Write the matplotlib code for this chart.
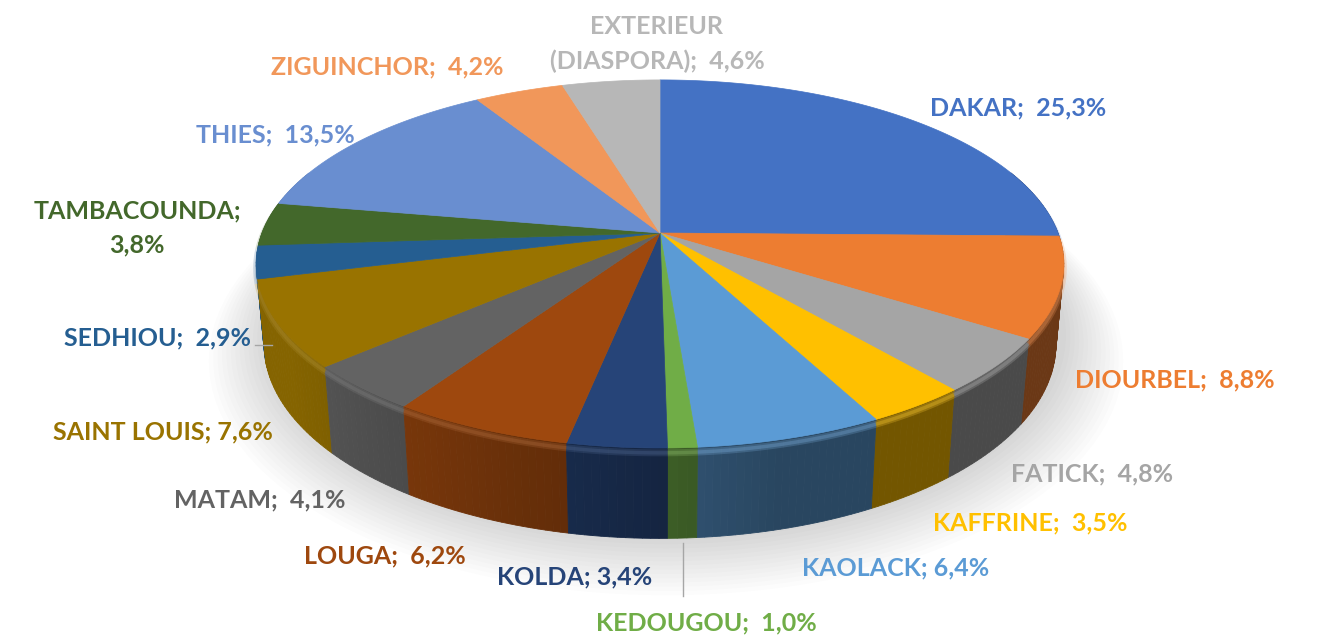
import numpy as np
import matplotlib.pyplot as plt
from matplotlib.patches import Polygon, Ellipse

plt.rcParams['font.family'] = ['Lato', 'DejaVu Sans']

# parts des régions (%), dans le sens horaire depuis midi
regions = ['DAKAR', 'DIOURBEL', 'FATICK', 'KAFFRINE', 'KAOLACK', 'KEDOUGOU',
           'KOLDA', 'LOUGA', 'MATAM', 'SAINT LOUIS', 'SEDHIOU', 'TAMBACOUNDA',
           'THIES', 'ZIGUINCHOR', 'EXTERIEUR\n(DIASPORA)']
shares = [25.3, 8.8, 4.8, 3.5, 6.4, 1.0, 3.4, 6.2, 4.1, 7.6, 2.9, 3.8, 13.5, 4.2, 4.6]
colors = ['#4472C4', '#ED7D31', '#A5A5A5', '#FFC000', '#5B9BD5', '#70AD47',
          '#264478', '#9E480E', '#636363', '#997300', '#255E91', '#43682B',
          '#698ED0', '#F1975A', '#B7B7B7']

# position des étiquettes (pixels)
label_pos = {
    'DAKAR': (1018, 108), 'DIOURBEL': (1175, 380), 'FATICK': (1092, 474),
    'KAFFRINE': (1030, 523), 'KAOLACK': (896, 568), 'KEDOUGOU': (706, 623),
    'KOLDA': (575, 577), 'LOUGA': (385, 556), 'MATAM': (260, 500),
    'SAINT LOUIS': (163, 432), 'SEDHIOU': (158, 338), 'TAMBACOUNDA': (137, 228),
    'THIES': (275, 135), 'ZIGUINCHOR': (387, 67), 'EXTERIEUR\n(DIASPORA)': (657, 44),
}
single_space = {'KAOLACK', 'KOLDA', 'SAINT LOUIS'}

W, H = 1330, 635
fig = plt.figure(figsize=(W / 100, H / 100), dpi=100)
ax = fig.add_axes([0, 0, 1, 1])
ax.set_xlim(0, W)
ax.set_ylim(H, 0)
ax.axis('off')

# projection perspective d'un disque
elev = np.radians(26.7)
dist = 5.31
cx, cy = 660, 233
k = 398 * dist
h = 0.228
ce, se = np.cos(elev), np.sin(elev)


def proj(X, Y, Z):
    depth = Y * ce - Z * se + dist
    up = Y * se + Z * ce
    return cx + k * X / depth, cy - k * up / depth


def shade(c, f):
    rgb = np.array(plt.matplotlib.colors.to_rgb(c))
    return tuple(np.clip(rgb * f, 0, 1))


def lighten(c, f):
    rgb = np.array(plt.matplotlib.colors.to_rgb(c))
    return tuple(rgb + (1 - rgb) * f)


# ombre portée
for i in range(14):
    grow = 1 + i * 0.011
    ax.add_patch(Ellipse((cx + 6, 335 + 2 * i), 800 * grow, 410 * grow,
                         color='#000000', alpha=0.011, lw=0, zorder=0))

total = sum(shares)
bounds = np.concatenate([[0], np.cumsum(shares)]) / total * 2 * np.pi

# murs latéraux
segs = []
for i, c in enumerate(colors):
    t = np.linspace(bounds[i], bounds[i + 1], max(3, int(shares[i] * 4)))
    for a, b in zip(t[:-1], t[1:]):
        m = 0.5 * (a + b)
        if np.cos(m) > 0.35:
            continue
        s = np.clip(0.25 - np.sin(m), 0, 1.1)
        f = 0.45 + 0.42 * s / 1.1
        xs1, ys1 = proj(np.sin(a), np.cos(a), 0)
        xs2, ys2 = proj(np.sin(b), np.cos(b), 0)
        xb1, yb1 = proj(np.sin(a), np.cos(a), -h)
        xb2, yb2 = proj(np.sin(b), np.cos(b), -h)
        segs.append((np.cos(m), [(xs1, ys1), (xs2, ys2), (xb2, yb2), (xb1, yb1)], shade(c, f)))
segs.sort(key=lambda s: -s[0])
for _, pts, col in segs:
    ax.add_patch(Polygon(pts, closed=True, fc=col, ec=col, lw=0.6, zorder=2))

# reflet du biseau
for i, c in enumerate(colors):
    t = np.linspace(bounds[i], bounds[i + 1], 60)
    t = t[np.cos(t) < 0.3]
    if len(t) < 2:
        continue
    for z, lw, al in [(-0.012, 5, 0.25), (-0.012, 2.5, 0.3)]:
        x, y = proj(np.sin(t), np.cos(t), z)
        ax.plot(x, y, color=lighten(c, 0.2), lw=lw, alpha=al,
                solid_capstyle='butt', zorder=3)

# face supérieure
x0, y0 = proj(0, 0, 0)
for i, c in enumerate(colors):
    t = np.linspace(bounds[i], bounds[i + 1], max(4, int(shares[i] * 6)))
    x, y = proj(np.sin(t), np.cos(t), 0)
    pts = [(x0, y0)] + list(zip(x, y))
    ax.add_patch(Polygon(pts, closed=True, fc=c, ec=c, lw=0.5, zorder=4))

# étiquettes
for name, share, c in zip(regions, shares, colors):
    pct = f'{share:.1f}'.replace('.', ',') + '%'
    if name == 'TAMBACOUNDA':
        sep = '\n'
    elif name in single_space:
        sep = ' '
    else:
        sep = '  '
    txt = f'{name};{sep}{pct}'
    if name.startswith('EXTERIEUR'):
        txt = 'EXTERIEUR\n(DIASPORA);  ' + pct
    lx, ly = label_pos[name]
    ax.text(lx, ly, txt, color=c, fontsize=18, fontweight='bold',
            ha='center', va='center', linespacing=1.55, zorder=6)

# lignes de rappel
ax.plot([255, 272], [345, 345], color='#A6A6A6', lw=1, zorder=5)
ax.plot([683, 683], [543, 596], color='#A6A6A6', lw=1, zorder=5)

fig.savefig('out.png', dpi=100, facecolor='white')
